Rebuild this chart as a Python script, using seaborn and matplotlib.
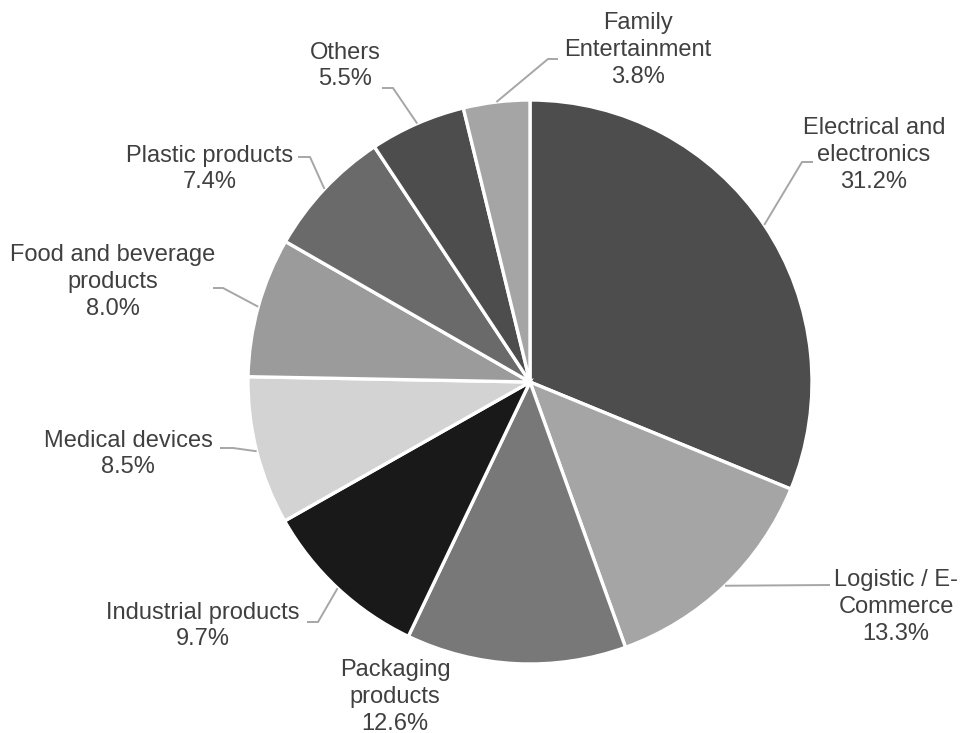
import numpy as np
import matplotlib
matplotlib.use("Agg")
import matplotlib.pyplot as plt
import seaborn as sns

# ---- data ----
categories = ["Electrical and\nelectronics", "Logistic / E-\nCommerce", "Packaging\nproducts",
              "Industrial products", "Medical devices", "Food and beverage\nproducts",
              "Plastic products", "Others", "Family\nEntertainment"]
shares = [31.2, 13.3, 12.6, 9.7, 8.5, 8.0, 7.4, 5.5, 3.8]
colors = ["#4d4d4d", "#a5a5a5", "#787878", "#191919", "#d3d3d3",
          "#9b9b9b", "#6a6a6a", "#4d4d4d", "#a5a5a5"]

# ---- layout (pixel coordinates) ----
W, H = 963, 733
center = (530, 382)
radius = 282
label_pos = [(874, 155), (896, 607), (395, 697), (203, 626), (128, 454),
             (113, 282), (210, 169), (345, 66), (638, 50)]
# elbow points of leader lines (None = no leader)
elbows = [[(802, 162), (813, 162)],
          [(830, 585)],
          None,
          [(318, 622), (307, 622)],
          [(233, 448), (220, 448)],
          [(223, 288), (213, 288)],
          [(310, 157), (298, 157)],
          [(393, 88), (382, 88)],
          [(548, 59), (558, 59)]]

sns.set_theme(style="white")
plt.rcParams["font.family"] = ["Liberation Sans", "DejaVu Sans"]

fig = plt.figure(figsize=(W / 100, H / 100), dpi=100)
ax = fig.add_axes([0, 0, 1, 1])

wedges, _ = ax.pie(shares, colors=colors, startangle=-90, counterclock=True,
                   center=center, radius=radius, frame=True,
                   wedgeprops=dict(edgecolor="white", linewidth=2.4))
ax.set_xlim(0, W)
ax.set_ylim(H, 0)
ax.set_aspect("equal")
ax.axis("off")

for w, lab, val, pos, el in zip(wedges, categories, shares, label_pos, elbows):
    mid = np.deg2rad((w.theta1 + w.theta2) / 2)
    sx = center[0] + radius * np.cos(mid)
    sy = center[1] + radius * np.sin(mid)
    if el is not None:
        xs = [sx] + [p[0] for p in el]
        ys = [sy] + [p[1] for p in el]
        ax.plot(xs, ys, color="#a6a6a6", lw=1.4, solid_capstyle="butt", zorder=1)
    ax.text(pos[0], pos[1], f"{lab}\n{val:.1f}%", ha="center", va="center",
            fontsize=17, color="#404040", linespacing=1.27)

fig.savefig("out.png", dpi=100, facecolor="white")
